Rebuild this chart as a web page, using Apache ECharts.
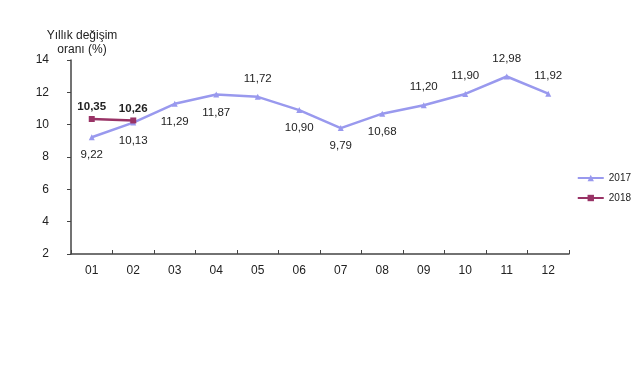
<!DOCTYPE html>
<html><head><meta charset="utf-8">
<script src="https://cdn.jsdelivr.net/npm/echarts@6/dist/echarts.min.js"></script>
<style>html,body{margin:0;padding:0;background:#fff}#c{width:640px;height:374px}</style>
</head><body><div id="c"></div>
<script>
const months = ['01','02','03','04','05','06','07','08','09','10','11','12'];
const values2017 = [9.22,10.13,11.29,11.87,11.72,10.90,9.79,10.68,11.20,11.90,12.98,11.92];
const values2018 = [10.35,10.26];
const labelPos2017 = ['bottom','bottom','bottom','bottom','top','bottom','bottom','bottom','top','top','top','top'];
const yTicks = [2,4,6,8,10,12,14];

const fmt = v => v.toFixed(2).replace('.', ',');
const chart = echarts.init(document.getElementById('c'));
chart.setOption({
  animation:false,
  textStyle:{fontFamily:'Liberation Sans'},
  title:{text:'Yıllık değişim\noranı (%)',left:77,top:24,textAlign:'center',
    textStyle:{fontSize:12,fontWeight:'normal',color:'#222',lineHeight:14,fontFamily:'Liberation Sans'}},
  grid:{left:71,right:71,top:60,bottom:120},
  legend:{orient:'vertical',right:4,top:168,itemGap:10,itemWidth:26,itemHeight:8,
    textStyle:{fontSize:10,color:'#222'},
    data:['2017','2018']},
  xAxis:{type:'category',data:months,boundaryGap:true,
    axisLine:{lineStyle:{color:'#444',width:1.5}},
    axisTick:{show:true,alignWithLabel:false,length:4,inside:true,lineStyle:{color:'#444'}},
    axisLabel:{fontSize:12,color:'#222',margin:11}},
  yAxis:{type:'value',min:2,max:14,interval:2,
    axisLine:{show:true,lineStyle:{color:'#444',width:1.5}},
    axisTick:{show:true,length:4,lineStyle:{color:'#444'}},
    splitLine:{show:false},
    axisLabel:{fontSize:12,color:'#222',margin:22}},
  series:[
    {name:'2017',type:'line',data:values2017.map((v,i)=>({value:v,label:{position:labelPos2017[i]}})),
      symbol:'triangle',symbolSize:6,
      lineStyle:{color:'#9999ee',width:2.5},itemStyle:{color:'#9999ee'},
      label:{show:true,formatter:p=>fmt(p.value),fontSize:11.5,color:'#222',distance:9}},
    {name:'2018',type:'line',data:values2018,
      symbol:'rect',symbolSize:6,
      lineStyle:{color:'#993366',width:2.5},itemStyle:{color:'#993366'},
      label:{show:true,position:'top',formatter:p=>fmt(p.value),fontSize:11.5,fontWeight:'bold',color:'#222',distance:3}}
  ]
});
</script></body></html>
